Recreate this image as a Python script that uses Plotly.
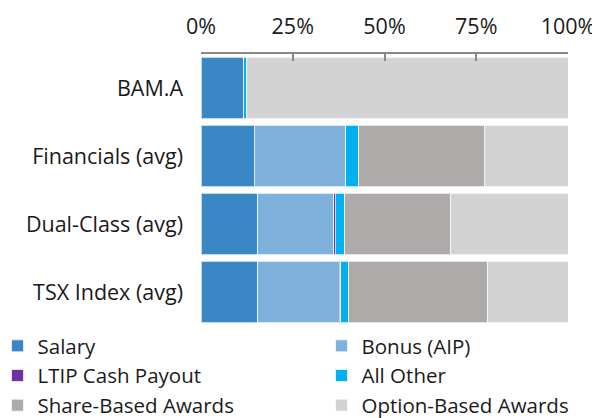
import plotly.graph_objects as go

categories = ["BAM.A", "Financials (avg)", "Dual-Class (avg)", "TSX Index (avg)"]
series_names = ["Salary", "Bonus (AIP)", "LTIP Cash Payout", "All Other",
                "Share-Based Awards", "Option-Based Awards"]
salary = [11.7, 14.5, 15.4, 15.4]
bonus = [0.0, 25.0, 20.8, 22.3]
ltip = [0.0, 0.0, 0.4, 0.4]
all_other = [0.6, 3.5, 2.5, 2.2]
share_based = [0.0, 34.2, 29.0, 37.8]
option_based = [87.7, 22.8, 32.0, 21.9]
colors = ["#3A87C8", "#7EB1DC", "#7030A0", "#00B0F0", "#AEAAAA", "#D3D3D3"]
legend_ids = ["legend", "legend2", "legend", "legend2", "legend", "legend2"]
tick_vals = [0, 25, 50, 75, 100]
tick_text = ["0%", "25%", "50%", "75%", "100%"]

values = [salary, bonus, ltip, all_other, share_based, option_based]

FONT = "'Open Sans', Lato, sans-serif"
TXT = "#1a1a1a"

fig = go.Figure()
for name, vals, col, lg in zip(series_names, values, colors, legend_ids):
    fig.add_trace(go.Bar(
        y=categories, x=vals, name=name, orientation="h",
        marker=dict(color=col, line=dict(color="rgba(255,255,255,0.7)", width=1)),
        hoverinfo="skip", legend=lg,
    ))

leg_common = dict(
    orientation="v", yanchor="top", xanchor="left",
    font=dict(family=FONT, size=20.5, color=TXT),
    traceorder="normal", itemclick=False, itemdoubleclick=False,
    tracegroupgap=0, bgcolor="rgba(0,0,0,0)", borderwidth=0,
)

fig.update_layout(
    barmode="stack",
    bargap=0.09,
    width=592, height=410,
    margin=dict(l=193, r=32, t=46, b=92, autoexpand=False),
    paper_bgcolor="white", plot_bgcolor="white",
    font=dict(family=FONT, size=21, color=TXT),
    showlegend=True,
    legend=dict(x=-0.5545, y=0.0, **leg_common),
    legend2=dict(x=0.3283, y=0.0, **leg_common),
    xaxis=dict(
        side="top", range=[0, 100], tickvals=tick_vals, ticktext=tick_text,
        showgrid=False, zeroline=False, showline=True, linecolor="#888888", linewidth=2,
        ticks="inside", ticklen=7, tickwidth=2, tickcolor="#888888",
        ticklabelstandoff=9, fixedrange=True, automargin=False,
        tickfont=dict(family=FONT, size=21.5, color=TXT),
    ),
    yaxis=dict(
        autorange="reversed", showgrid=False, zeroline=False, showline=False,
        ticks="", ticklabelstandoff=17, fixedrange=True, automargin=False,
        tickfont=dict(family=FONT, size=21.5, color=TXT),
    ),
)

fig.write_html("out.html")
